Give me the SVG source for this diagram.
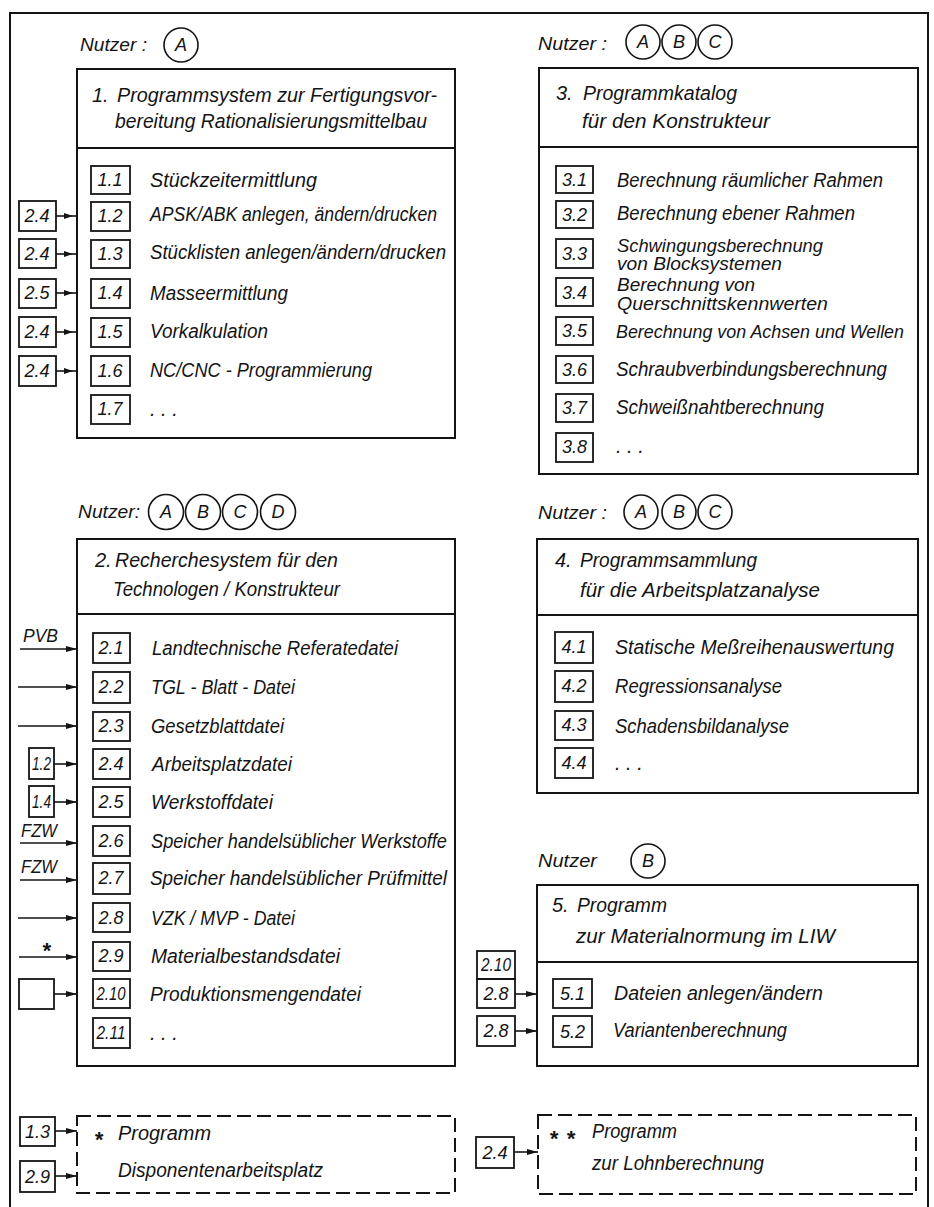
<svg xmlns="http://www.w3.org/2000/svg" width="934" height="1207" viewBox="0 0 934 1207">
<style>
.t{font-family:"Liberation Sans",Arial,sans-serif;font-style:italic;font-size:20px;fill:#141414}
.h{font-size:20px}
.s{font-size:18px}
.n{font-size:18px;text-anchor:middle}
.u{font-size:19px}
.cl{font-size:18px;text-anchor:middle}
.ast{font-size:22px;font-weight:bold}
.box{fill:none;stroke:#141414;stroke-width:2}
.nb{fill:none;stroke:#141414;stroke-width:1.8}
.dash{stroke-dasharray:14 6}
.c{fill:none;stroke:#141414;stroke-width:1.6}
.ln{fill:none;stroke:#141414;stroke-width:1.6;marker-end:url(#ah)}
.ln2{fill:none;stroke:#141414;stroke-width:1.6;marker-end:url(#ah2)}
</style>
<defs>
<marker id="ah" markerUnits="userSpaceOnUse" markerWidth="14" markerHeight="8" refX="11" refY="3" orient="auto">
<path d="M0,0 L11,3 L0,6 z" fill="#141414"/>
</marker>
<marker id="ah2" markerUnits="userSpaceOnUse" markerWidth="14" markerHeight="8" refX="13" refY="3" orient="auto">
<path d="M0,0 L9,3 L0,6 z" fill="#141414"/>
</marker>
</defs>
<rect x="0" y="0" width="934" height="1207" fill="#ffffff"/>
<path id="frame" d="M10,1207 V13 H928 V1207" fill="none" stroke="#141414" stroke-width="2"/>

<g id="node1">
<text class="t u" x="80" y="51" textLength="67" lengthAdjust="spacingAndGlyphs">Nutzer :</text>
<circle class="c" cx="181" cy="45" r="17"/><text class="t cl" x="181" y="51">A</text>
<rect class="box" x="77" y="69" width="378" height="369"/>
<line class="box" x1="77" y1="148" x2="455" y2="148"/>
<text class="t h" x="92" y="102">1.</text>
<text class="t h" x="117" y="102" textLength="320" lengthAdjust="spacingAndGlyphs">Programmsystem zur Fertigungsvor-</text>
<text class="t h" x="115" y="128" textLength="312" lengthAdjust="spacingAndGlyphs">bereitung Rationalisierungsmittelbau</text>
<rect class="nb" x="91" y="166" width="39" height="28"/><text class="t n" x="110" y="186">1.1</text>
<text class="t" x="150" y="187" textLength="167" lengthAdjust="spacingAndGlyphs">Stückzeitermittlung</text>
<rect class="nb" x="91" y="202" width="39" height="29"/><text class="t n" x="110" y="222">1.2</text>
<text class="t" x="150" y="221" textLength="287" lengthAdjust="spacingAndGlyphs">APSK/ABK anlegen, ändern/drucken</text>
<rect class="nb" x="91" y="240" width="39" height="28"/><text class="t n" x="110" y="260">1.3</text>
<text class="t" x="150" y="259" textLength="296" lengthAdjust="spacingAndGlyphs">Stücklisten anlegen/ändern/drucken</text>
<rect class="nb" x="91" y="279" width="39" height="29"/><text class="t n" x="110" y="299">1.4</text>
<text class="t" x="150" y="300" textLength="138" lengthAdjust="spacingAndGlyphs">Masseermittlung</text>
<rect class="nb" x="91" y="318" width="39" height="29"/><text class="t n" x="110" y="338">1.5</text>
<text class="t" x="150" y="338" textLength="118" lengthAdjust="spacingAndGlyphs">Vorkalkulation</text>
<rect class="nb" x="91" y="356" width="39" height="30"/><text class="t n" x="110" y="377">1.6</text>
<text class="t" x="150" y="377" textLength="222" lengthAdjust="spacingAndGlyphs">NC/CNC - Programmierung</text>
<rect class="nb" x="91" y="395" width="39" height="29"/><text class="t n" x="110" y="415">1.7</text>
<text class="t" x="150" y="416">. . .</text>
</g>

<g id="node1-refs">
<rect class="nb" x="19" y="201" width="37" height="30"/><text class="t n" x="37" y="222">2.4</text>
<rect class="nb" x="19" y="239" width="37" height="29"/><text class="t n" x="37" y="260">2.4</text>
<rect class="nb" x="19" y="279" width="37" height="29"/><text class="t n" x="37" y="299">2.5</text>
<rect class="nb" x="19" y="317" width="37" height="30"/><text class="t n" x="37" y="338">2.4</text>
<rect class="nb" x="19" y="356" width="37" height="30"/><text class="t n" x="37" y="377">2.4</text>
</g>

<g id="node2">
<text class="t u" x="78" y="518" textLength="62" lengthAdjust="spacingAndGlyphs">Nutzer:</text>
<circle class="c" cx="166" cy="512" r="17.5"/><text class="t cl" x="166" y="518">A</text>
<circle class="c" cx="203" cy="512" r="17.5"/><text class="t cl" x="203" y="518">B</text>
<circle class="c" cx="240" cy="512" r="17.5"/><text class="t cl" x="240" y="518">C</text>
<circle class="c" cx="278" cy="512" r="17.5"/><text class="t cl" x="278" y="518">D</text>
<rect class="box" x="77" y="539" width="378" height="527"/>
<line class="box" x1="77" y1="614" x2="455" y2="614"/>
<text class="t h" x="95" y="567">2.</text>
<text class="t h" x="115" y="567" textLength="223" lengthAdjust="spacingAndGlyphs">Recherchesystem  für den</text>
<text class="t h" x="113" y="596" textLength="227" lengthAdjust="spacingAndGlyphs">Technologen / Konstrukteur</text>
<rect class="nb" x="93" y="633" width="37" height="30"/><text class="t n" x="111" y="654">2.1</text>
<text class="t" x="152" y="655" textLength="246" lengthAdjust="spacingAndGlyphs">Landtechnische  Referatedatei</text>
<rect class="nb" x="93" y="672" width="37" height="31"/><text class="t n" x="111" y="693">2.2</text>
<text class="t" x="151" y="694" textLength="144" lengthAdjust="spacingAndGlyphs">TGL - Blatt - Datei</text>
<rect class="nb" x="93" y="712" width="37" height="29"/><text class="t n" x="111" y="732">2.3</text>
<text class="t" x="151" y="733" textLength="133" lengthAdjust="spacingAndGlyphs">Gesetzblattdatei</text>
<rect class="nb" x="93" y="749" width="37" height="30"/><text class="t n" x="111" y="770">2.4</text>
<text class="t" x="152" y="771" textLength="140" lengthAdjust="spacingAndGlyphs">Arbeitsplatzdatei</text>
<rect class="nb" x="93" y="787" width="37" height="30"/><text class="t n" x="111" y="808">2.5</text>
<text class="t" x="151" y="809" textLength="122" lengthAdjust="spacingAndGlyphs">Werkstoffdatei</text>
<rect class="nb" x="93" y="826" width="37" height="30"/><text class="t n" x="111" y="847">2.6</text>
<text class="t" x="151" y="848" textLength="296" lengthAdjust="spacingAndGlyphs">Speicher handelsüblicher Werkstoffe</text>
<rect class="nb" x="93" y="863" width="37" height="31"/><text class="t n" x="111" y="884">2.7</text>
<text class="t" x="150" y="885" textLength="297" lengthAdjust="spacingAndGlyphs">Speicher handelsüblicher Prüfmittel</text>
<rect class="nb" x="93" y="903" width="37" height="29"/><text class="t n" x="111" y="924">2.8</text>
<text class="t" x="151" y="925" textLength="144" lengthAdjust="spacingAndGlyphs">VZK / MVP - Datei</text>
<rect class="nb" x="93" y="942" width="37" height="29"/><text class="t n" x="111" y="962">2.9</text>
<text class="t" x="151" y="963" textLength="189" lengthAdjust="spacingAndGlyphs">Materialbestandsdatei</text>
<rect class="nb" x="93" y="979" width="37" height="29"/><text class="t n" x="111" y="1000" textLength="29" lengthAdjust="spacingAndGlyphs">2.10</text>
<text class="t" x="150" y="1001" textLength="211" lengthAdjust="spacingAndGlyphs">Produktionsmengendatei</text>
<rect class="nb" x="93" y="1018" width="37" height="30"/><text class="t n" x="111" y="1039" textLength="29" lengthAdjust="spacingAndGlyphs">2.11</text>
<text class="t" x="150" y="1040">. . .</text>
</g>

<g id="node2-refs">
<text class="t u" x="23" y="642" textLength="35" lengthAdjust="spacingAndGlyphs">PVB</text>
<rect class="nb" x="29" y="748" width="25" height="31"/><text class="t n" x="41.5" y="770" textLength="19" lengthAdjust="spacingAndGlyphs">1.2</text>
<rect class="nb" x="29" y="786" width="25" height="31"/><text class="t n" x="41.5" y="808" textLength="19" lengthAdjust="spacingAndGlyphs">1.4</text>
<text class="t u" x="21" y="837" textLength="36" lengthAdjust="spacingAndGlyphs">FZW</text>
<text class="t u" x="21" y="873" textLength="36" lengthAdjust="spacingAndGlyphs">FZW</text>
<text class="t ast" x="46" y="958" text-anchor="middle">*</text>
<rect class="nb" x="19" y="979" width="35" height="30"/>
</g>

<g id="node-dispo">
<rect class="box dash" x="77" y="1116" width="378" height="77"/>
<text class="t ast" x="94" y="1147">*</text>
<text class="t" x="118" y="1140" textLength="93" lengthAdjust="spacingAndGlyphs">Programm</text>
<text class="t" x="118" y="1177" textLength="205" lengthAdjust="spacingAndGlyphs">Disponentenarbeitsplatz</text>
<rect class="nb" x="20" y="1117" width="35" height="29"/><text class="t n" x="37.5" y="1138">1.3</text>
<rect class="nb" x="20" y="1161" width="35" height="31"/><text class="t n" x="37.5" y="1183">2.9</text>
</g>

<g id="node3">
<text class="t u" x="538" y="50" textLength="69" lengthAdjust="spacingAndGlyphs">Nutzer :</text>
<circle class="c" cx="643" cy="42" r="17"/><text class="t cl" x="643" y="48">A</text>
<circle class="c" cx="679" cy="42" r="17"/><text class="t cl" x="679" y="48">B</text>
<circle class="c" cx="715" cy="42" r="17"/><text class="t cl" x="715" y="48">C</text>
<rect class="box" x="539" y="68" width="379" height="406"/>
<line class="box" x1="539" y1="147" x2="918" y2="147"/>
<text class="t h" x="556" y="100">3.</text>
<text class="t h" x="583" y="100" textLength="154" lengthAdjust="spacingAndGlyphs">Programmkatalog</text>
<text class="t h" x="582" y="128" textLength="188" lengthAdjust="spacingAndGlyphs">für den Konstrukteur</text>
<rect class="nb" x="556" y="166" width="37" height="27"/><text class="t n" x="574.5" y="186">3.1</text>
<text class="t" x="617" y="187" textLength="266" lengthAdjust="spacingAndGlyphs">Berechnung räumlicher Rahmen</text>
<rect class="nb" x="556" y="201" width="37" height="27"/><text class="t n" x="574.5" y="221">3.2</text>
<text class="t" x="617" y="220" textLength="238" lengthAdjust="spacingAndGlyphs">Berechnung ebener Rahmen</text>
<rect class="nb" x="556" y="239" width="37" height="29"/><text class="t n" x="574.5" y="260">3.3</text>
<text class="t s" x="617" y="252" textLength="206" lengthAdjust="spacingAndGlyphs">Schwingungsberechnung</text>
<text class="t s" x="617" y="270" textLength="165" lengthAdjust="spacingAndGlyphs">von Blocksystemen</text>
<rect class="nb" x="556" y="278" width="37" height="28"/><text class="t n" x="574.5" y="299">3.4</text>
<text class="t s" x="617" y="291" textLength="138" lengthAdjust="spacingAndGlyphs">Berechnung von</text>
<text class="t s" x="617" y="310" textLength="211" lengthAdjust="spacingAndGlyphs">Querschnittskennwerten</text>
<rect class="nb" x="556" y="317" width="37" height="28"/><text class="t n" x="574.5" y="337">3.5</text>
<text class="t s" x="616" y="338" textLength="288" lengthAdjust="spacingAndGlyphs">Berechnung von Achsen und Wellen</text>
<rect class="nb" x="556" y="356" width="37" height="27"/><text class="t n" x="574.5" y="376">3.6</text>
<text class="t" x="616" y="376" textLength="271" lengthAdjust="spacingAndGlyphs">Schraubverbindungsberechnung</text>
<rect class="nb" x="556" y="394" width="37" height="28"/><text class="t n" x="574.5" y="414">3.7</text>
<text class="t" x="616" y="414" textLength="208" lengthAdjust="spacingAndGlyphs">Schweißnahtberechnung</text>
<rect class="nb" x="556" y="433" width="37" height="29"/><text class="t n" x="574.5" y="453">3.8</text>
<text class="t" x="616" y="453">. . .</text>
</g>

<g id="node4">
<text class="t u" x="538" y="519" textLength="69" lengthAdjust="spacingAndGlyphs">Nutzer :</text>
<circle class="c" cx="641" cy="512" r="17"/><text class="t cl" x="641" y="518">A</text>
<circle class="c" cx="679" cy="512" r="17"/><text class="t cl" x="679" y="518">B</text>
<circle class="c" cx="715" cy="512" r="17"/><text class="t cl" x="715" y="518">C</text>
<rect class="box" x="537" y="539" width="381" height="254"/>
<line class="box" x1="537" y1="615" x2="918" y2="615"/>
<text class="t h" x="555" y="567">4.</text>
<text class="t h" x="580" y="567" textLength="177" lengthAdjust="spacingAndGlyphs">Programmsammlung</text>
<text class="t h" x="580" y="597" textLength="240" lengthAdjust="spacingAndGlyphs">für die Arbeitsplatzanalyse</text>
<rect class="nb" x="555" y="632" width="38" height="31"/><text class="t n" x="574" y="653">4.1</text>
<text class="t" x="615" y="654" textLength="279" lengthAdjust="spacingAndGlyphs">Statische Meßreihenauswertung</text>
<rect class="nb" x="555" y="671" width="38" height="31"/><text class="t n" x="574" y="692">4.2</text>
<text class="t" x="615" y="693" textLength="167" lengthAdjust="spacingAndGlyphs">Regressionsanalyse</text>
<rect class="nb" x="555" y="711" width="38" height="29"/><text class="t n" x="574" y="731">4.3</text>
<text class="t" x="615" y="733" textLength="174" lengthAdjust="spacingAndGlyphs">Schadensbildanalyse</text>
<rect class="nb" x="555" y="748" width="38" height="30"/><text class="t n" x="574" y="769">4.4</text>
<text class="t" x="615" y="770">. . .</text>
</g>

<g id="node5">
<text class="t u" x="538" y="867" textLength="59" lengthAdjust="spacingAndGlyphs">Nutzer</text>
<circle class="c" cx="648" cy="861" r="17"/><text class="t cl" x="648" y="867">B</text>
<rect class="box" x="537" y="885" width="381" height="181"/>
<line class="box" x1="537" y1="962" x2="918" y2="962"/>
<text class="t h" x="552" y="912">5.</text>
<text class="t h" x="577" y="912" textLength="90" lengthAdjust="spacingAndGlyphs">Programm</text>
<text class="t h" x="576" y="943" textLength="259" lengthAdjust="spacingAndGlyphs">zur Materialnormung im LIW</text>
<rect class="nb" x="553" y="979" width="39" height="29"/><text class="t n" x="572.5" y="1000">5.1</text>
<text class="t" x="614" y="1000" textLength="209" lengthAdjust="spacingAndGlyphs">Dateien anlegen/ändern</text>
<rect class="nb" x="553" y="1016" width="39" height="31"/><text class="t n" x="572.5" y="1038">5.2</text>
<text class="t" x="613" y="1037" textLength="174" lengthAdjust="spacingAndGlyphs">Variantenberechnung</text>
</g>

<g id="node5-refs">
<rect class="nb" x="477" y="951" width="38" height="28"/><text class="t n" x="496" y="971" textLength="30" lengthAdjust="spacingAndGlyphs">2.10</text>
<rect class="nb" x="477" y="979" width="38" height="29"/><text class="t n" x="496" y="1000">2.8</text>
<rect class="nb" x="477" y="1016" width="38" height="30"/><text class="t n" x="496" y="1037">2.8</text>
</g>

<g id="node-lohn">
<rect class="box dash" x="538" y="1115" width="378" height="79"/>
<text class="t ast" x="549" y="1146">*</text>
<text class="t ast" x="566" y="1146">*</text>
<text class="t" x="592" y="1138" textLength="85" lengthAdjust="spacingAndGlyphs">Programm</text>
<text class="t" x="592" y="1170" textLength="172" lengthAdjust="spacingAndGlyphs">zur Lohnberechnung</text>
<rect class="nb" x="476" y="1137" width="38" height="31"/><text class="t n" x="495" y="1159">2.4</text>
</g>

<g id="connectors">
<line class="ln2" x1="56" y1="216" x2="77" y2="216"/>
<line class="ln2" x1="56" y1="254" x2="77" y2="254"/>
<line class="ln2" x1="56" y1="293" x2="77" y2="293"/>
<line class="ln2" x1="56" y1="332" x2="77" y2="332"/>
<line class="ln2" x1="56" y1="371" x2="77" y2="371"/>
<line class="ln" x1="20" y1="649" x2="77" y2="649"/>
<line class="ln" x1="18" y1="687" x2="77" y2="687"/>
<line class="ln" x1="18" y1="726" x2="77" y2="726"/>
<line class="ln" x1="54" y1="764" x2="77" y2="764"/>
<line class="ln" x1="54" y1="802" x2="77" y2="802"/>
<line class="ln" x1="20" y1="843" x2="77" y2="843"/>
<line class="ln" x1="20" y1="880" x2="77" y2="880"/>
<line class="ln" x1="18" y1="918" x2="77" y2="918"/>
<line class="ln" x1="19" y1="957" x2="77" y2="957"/>
<line class="ln" x1="54" y1="994" x2="77" y2="994"/>
<line class="ln" x1="55" y1="1131" x2="77" y2="1131"/>
<line class="ln" x1="55" y1="1176" x2="77" y2="1176"/>
<line class="ln" x1="515" y1="994" x2="537" y2="994"/>
<line class="ln" x1="515" y1="1031" x2="537" y2="1031"/>
<line class="ln" x1="514" y1="1152" x2="538" y2="1152"/>
</g>
</svg>
